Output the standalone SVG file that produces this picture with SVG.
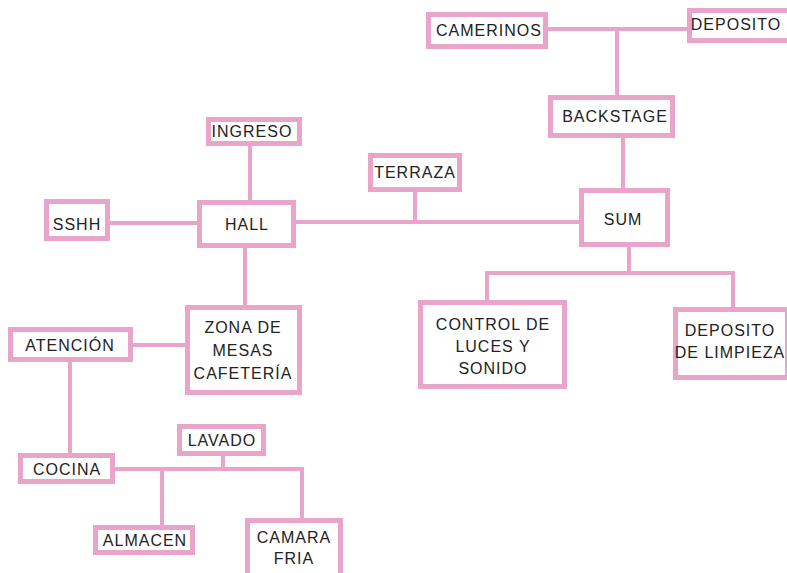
<svg xmlns="http://www.w3.org/2000/svg" width="787" height="573" viewBox="0 0 787 573">
<style>
.b{fill:#ffffff;stroke:#e9a4c9;stroke-width:5}
.c{fill:none;stroke:#e9a4c9;stroke-width:4}
text{font-family:"Liberation Sans",Arial,sans-serif;font-size:16px;fill:#222;text-anchor:middle;letter-spacing:1px}
</style>
<rect width="787" height="573" fill="#ffffff"/>
<g id="connectors">
<path class="c" d="M548 29H687M617 29V95"/>
<path class="c" d="M623 138V188"/>
<path class="c" d="M296 222H579M415 192V222"/>
<path class="c" d="M250 146V200"/>
<path class="c" d="M110 223H197"/>
<path class="c" d="M245 248V305"/>
<path class="c" d="M629 247V273M487 300V273H733V307"/>
<path class="c" d="M133 345H185"/>
<path class="c" d="M70 362V453"/>
<path class="c" d="M115 469H302V518M162 469V525M223 456V469"/>
</g>
<g id="camerinos"><rect class="b" x="428.5" y="14.5" width="117" height="32"/><text x="489" y="36">CAMERINOS</text></g>
<g id="deposito"><rect class="b" x="689.5" y="10.5" width="100" height="30"/><text x="736" y="30">DEPOSITO</text></g>
<g id="backstage"><rect class="b" x="550.5" y="97.5" width="122" height="38"/><text x="615" y="122">BACKSTAGE</text></g>
<g id="ingreso"><rect class="b" x="208.5" y="119.5" width="91" height="24"/><text x="252" y="137">INGRESO</text></g>
<g id="terraza"><rect class="b" x="370.5" y="155.5" width="89" height="34"/><text x="415" y="178">TERRAZA</text></g>
<g id="sshh"><rect class="b" x="46.5" y="201.5" width="61" height="37"/><text x="77" y="230">SSHH</text></g>
<g id="hall"><rect class="b" x="199.5" y="202.5" width="94" height="43"/><text x="247" y="230">HALL</text></g>
<g id="sum"><rect class="b" x="581.5" y="190.5" width="86" height="54"/><text x="623" y="225">SUM</text></g>
<g id="control"><rect class="b" x="420.5" y="302.5" width="144" height="84"/><text x="493" y="330">CONTROL DE</text><text x="493" y="352">LUCES Y</text><text x="493" y="374">SONIDO</text></g>
<g id="deposito-limpieza"><rect class="b" x="675.5" y="309.5" width="112" height="68"/><text x="730" y="336">DEPOSITO</text><text x="730" y="358">DE LIMPIEZA</text></g>
<g id="zona-mesas"><rect class="b" x="187.5" y="307.5" width="112" height="85"/><text x="243" y="333">ZONA DE</text><text x="243" y="356">MESAS</text><text x="243" y="379">CAFETERÍA</text></g>
<g id="atencion"><rect class="b" x="10.5" y="329.5" width="120" height="30"/><text x="70" y="351">ATENCIÓN</text></g>
<g id="lavado"><rect class="b" x="179.5" y="426.5" width="84" height="27"/><text x="222" y="446">LAVADO</text></g>
<g id="cocina"><rect class="b" x="20.5" y="455.5" width="92" height="26"/><text x="67" y="475">COCINA</text></g>
<g id="almacen"><rect class="b" x="95.5" y="527.5" width="97" height="25"/><text x="145" y="546">ALMACEN</text></g>
<g id="camara-fria"><rect class="b" x="247.5" y="520.5" width="93" height="55"/><text x="294" y="543">CAMARA</text><text x="294" y="564">FRIA</text></g>
</svg>
